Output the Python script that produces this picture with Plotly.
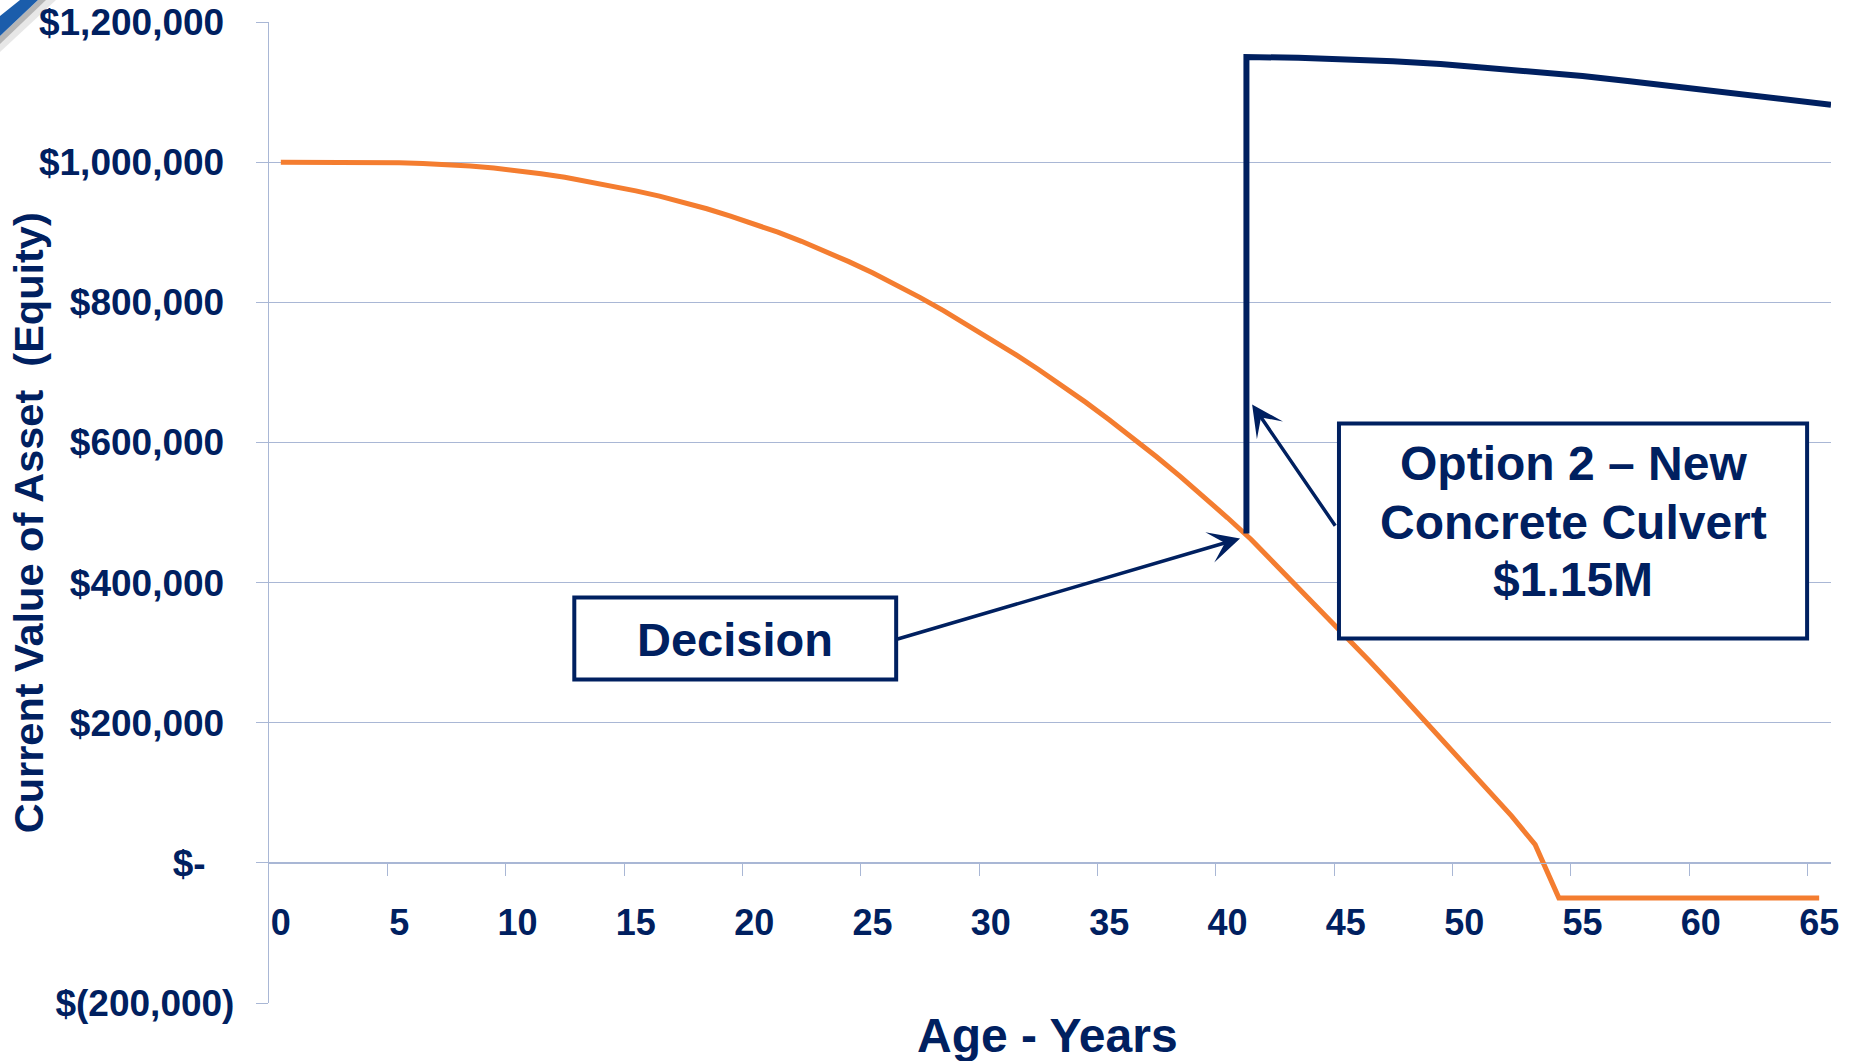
import plotly.graph_objects as go

# ---- data -------------------------------------------------------------
years = list(range(0, 66))

# Current value of the existing asset by age (declines, written off at 54)
existing_value = [
    1000000, 1000000, 1000000, 1000000, 1000000, 999000, 998000, 996500,
    994500, 991500, 988000, 983500, 978500, 972500, 966000, 959000,
    951500, 943000, 933500, 923000, 912000, 900000, 887000, 873000,
    858000, 842000, 825000, 807000, 788000, 768000, 747500, 726500,
    704500, 681500, 657500, 632500, 606500, 579500, 551500, 522500,
    492500, 461500, 427000, 393000, 358000, 323000, 288000, 252000,
    215000, 178000, 142000, 106000, 67000, 26000, -50000, -50000,
    -50000, -50000, -50000, -50000, -50000, -50000, -50000, -50000,
    -50000, -50000,
]

# Option 2: new concrete culvert installed at the decision point
replacement_years = [40.8, 40.8, 43, 45, 47, 49, 51, 53, 55, 57, 59, 61, 63, 65.5]
replacement_value = [470000, 1150000, 1149000, 1147000, 1144000, 1140000, 1135000,
                     1129000, 1123000, 1115500, 1108000, 1100000, 1092000, 1082000]

y_tick_values = [-200000, 0, 200000, 400000, 600000, 800000, 1000000, 1200000]
y_tick_labels = ["$(200,000)", "$-\u2002\u00a0", "$200,000\u00a0", "$400,000\u00a0",
                 "$600,000\u00a0", "$800,000\u00a0", "$1,000,000\u00a0", "$1,200,000\u00a0"]
x_tick_values = list(range(0, 66, 5))
x_tick_labels = [str(v) for v in x_tick_values]
x_tick_marks = [v - 0.5 for v in range(5, 66, 5)]

option_lines = ["Option 2 \u2013 New", "Concrete Culvert", "$1.15M"]

y_range = [-200000, 1200000]
x_range = [-0.5, 65.5]

# ---- styling ----------------------------------------------------------
NAVY = "#002060"
ORANGE = "#F47D30"
GRID = "#A9B7D5"
FONT = "Liberation Sans, Arial, sans-serif"

fig = go.Figure()

fig.add_trace(go.Scatter(
    x=years, y=existing_value, mode="lines",
    line=dict(color=ORANGE, width=5), showlegend=False, hoverinfo="skip",
))
fig.add_trace(go.Scatter(
    x=replacement_years, y=replacement_value, mode="lines",
    line=dict(color=NAVY, width=6), showlegend=False, hoverinfo="skip",
))

zero_pos = (0 - y_range[0]) / (y_range[1] - y_range[0])

fig.update_layout(
    width=1853, height=1061,
    margin=dict(l=269, r=22, t=22, b=58),
    paper_bgcolor="white", plot_bgcolor="white",
    font=dict(family=FONT, color=NAVY),
    xaxis=dict(
        range=x_range, anchor="free", position=zero_pos, automargin=False,
        showgrid=False, zeroline=False,
        showline=True, linecolor=GRID, linewidth=1.3,
        tickmode="array", tickvals=x_tick_values, ticktext=x_tick_labels,
        ticks="outside", ticklen=12, tickcolor="rgba(0,0,0,0)",
        ticklabelstandoff=16,
        tickfont=dict(family=FONT, size=36, color=NAVY, weight="bold"),
        minor=dict(tickmode="array", tickvals=x_tick_marks, ticks="outside",
                   ticklen=12, tickcolor=GRID, tickwidth=1.3, showgrid=False),
    ),
    yaxis=dict(
        range=y_range, automargin=False,
        showgrid=True, gridcolor=GRID, gridwidth=1.3, zeroline=False,
        showline=True, linecolor=GRID, linewidth=1.3,
        tickmode="array", tickvals=y_tick_values, ticktext=y_tick_labels,
        ticks="outside", ticklen=12, tickcolor=GRID, tickwidth=1.3,
        ticklabelstandoff=14,
        tickfont=dict(family=FONT, size=37, color=NAVY, weight="bold"),
    ),
)

# axis titles
fig.add_annotation(
    text="Age - Years", xref="paper", yref="paper", x=0.4987, y=-0.033,
    xanchor="center", yanchor="middle", showarrow=False,
    font=dict(family=FONT, size=48, color=NAVY, weight="bold"),
)
fig.add_annotation(
    text="Current Value of Asset \u00a0(Equity)", xref="paper", yref="paper",
    x=-0.1543, y=0.49, xanchor="center", yanchor="middle", textangle=-90,
    showarrow=False, font=dict(family=FONT, size=41.5, color=NAVY, weight="bold"),
)

# callout boxes
fig.add_shape(type="rect", xref="x", yref="y", x0=12.4, x1=26.0, y0=261700, y1=378700,
              line=dict(color=NAVY, width=4), fillcolor="white", layer="above")
fig.add_annotation(
    text="Decision", xref="x", yref="y", x=19.2, y=318800, showarrow=False,
    xanchor="center", yanchor="middle",
    font=dict(family=FONT, size=47, color=NAVY, weight="bold"),
)
fig.add_shape(type="rect", xref="x", yref="y", x0=44.71, x1=64.49, y0=320200, y1=627100,
              line=dict(color=NAVY, width=4), fillcolor="white", layer="above")
for line_text, line_y in zip(option_lines, [569500, 485100, 404000]):
    fig.add_annotation(
        text=line_text, xref="x", yref="y", x=54.6, y=line_y, showarrow=False,
        xanchor="center", yanchor="middle",
        font=dict(family=FONT, size=48, color=NAVY, weight="bold"),
    )

# arrows pointing at the decision point and the replacement jump
fig.add_annotation(
    x=40.53, y=463000, ax=26.0, ay=318800, xref="x", yref="y", axref="x", ayref="y",
    text=" ", showarrow=True, arrowhead=3, arrowsize=1.5, arrowwidth=3.5,
    arrowcolor=NAVY, font=dict(size=1),
)
fig.add_annotation(
    x=41.04, y=654300, ax=44.61, ay=478300, xref="x", yref="y", axref="x", ayref="y",
    text=" ", showarrow=True, arrowhead=3, arrowsize=1.5, arrowwidth=3.5,
    arrowcolor=NAVY, font=dict(size=1),
)

# slide corner ribbon
def px(xp, yp):
    return (xp - 269) / 1562, (1003 - yp) / 981

def path(points):
    pts = [px(a, b) for a, b in points]
    return "M " + " L ".join(f"{a:.5f},{b:.5f}" for a, b in pts) + " Z"

fig.add_shape(type="path", xref="paper", yref="paper",
              path=path([(0, 36), (38, 0), (56, 0), (0, 52)]),
              fillcolor="rgba(120,120,120,0.18)", line=dict(width=0))
fig.add_shape(type="path", xref="paper", yref="paper",
              path=path([(0, 36), (38, 0), (46, 0), (0, 44)]),
              fillcolor="rgba(90,90,90,0.35)", line=dict(width=0))
fig.add_shape(type="path", xref="paper", yref="paper",
              path=path([(0, 16), (20, 0), (38, 0), (0, 36)]),
              fillcolor="#1B5DAB", line=dict(width=0))

fig.write_html("out.html")
